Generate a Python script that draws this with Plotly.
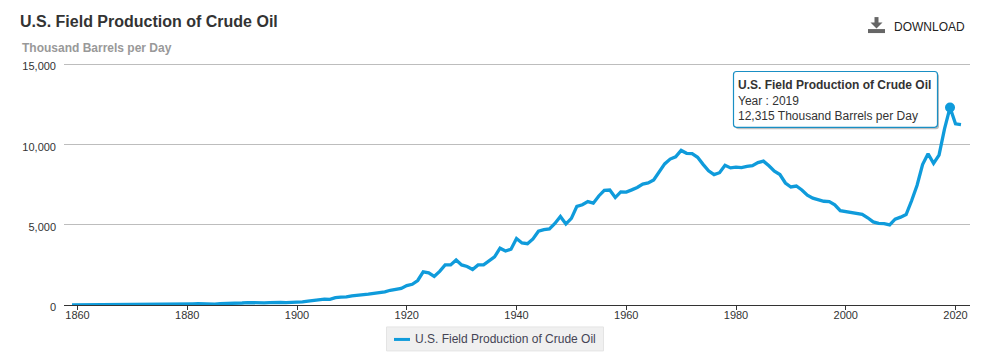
import plotly.graph_objects as go

W, H = 1002, 359
SERIES = "U.S. Field Production of Crude Oil"
UNIT = "Thousand Barrels per Day"

years = list(range(1859, 2022))
production = [
    0, 1, 6, 8, 7, 6, 7, 10, 10, 10, 12,
    14, 14, 17, 27, 30, 34, 25, 37, 42, 55,
    72, 76, 82, 64, 66, 60, 77, 78, 76, 97,
    126, 148, 133, 133, 135, 145, 167, 166, 152, 156,
    174, 190, 243, 275, 321, 369, 347, 456, 490, 501,
    574, 603, 610, 682, 728, 770, 826, 919, 975, 1037,
    1210, 1294, 1528, 2068, 2000, 1780, 2100, 2500, 2500, 2810,
    2500, 2400, 2210, 2500, 2500, 2720, 3000, 3540, 3370, 3480,
    4150, 3870, 3820, 4120, 4600, 4700, 4750, 5085, 5520, 5050,
    5400, 6150, 6250, 6450, 6350, 6800, 7150, 7170, 6700, 7050,
    7040, 7180, 7330, 7540, 7610, 7800, 8300, 8800, 9100, 9240,
    9640, 9460, 9440, 9210, 8770, 8370, 8130, 8250, 8710, 8550,
    8600, 8570, 8650, 8690, 8880, 8970, 8680, 8350, 8140, 7610,
    7360, 7420, 7170, 6850, 6660, 6560, 6470, 6450, 6250, 5880,
    5820, 5800, 5740, 5650, 5440, 5180, 5090, 5080, 5000, 5350,
    5480, 5640, 6500, 7470, 8760, 9430, 8830, 9350, 10990, 12315,
    11300, 11250,
]
highlight_year = [2019]
highlight_value = [12315]
y_ticks = [0, 5000, 10000, 15000]
y_labels = ["0", "5,000", "10,000", "15,000"]
x_ticks = [1860, 1880, 1900, 1920, 1940, 1960, 1980, 2000, 2020]

FONT = "Liberation Sans, Arial, sans-serif"
BLUE = "#0f9bdb"

L, R, T, B = 64, 970, 60, 305.5
GRID_TOP = 64.5
Y_MAX = 15000 * (B - T) / (B - GRID_TOP)


def px(x):
    return (x - L) / (R - L)


def py(y):
    return (B - y) / (B - T)


def rounded(x0, y0, x1, y1, r):
    return (
        f"M {px(x0 + r)} {py(y0)} L {px(x1 - r)} {py(y0)} "
        f"Q {px(x1)} {py(y0)} {px(x1)} {py(y0 + r)} L {px(x1)} {py(y1 - r)} "
        f"Q {px(x1)} {py(y1)} {px(x1 - r)} {py(y1)} L {px(x0 + r)} {py(y1)} "
        f"Q {px(x0)} {py(y1)} {px(x0)} {py(y1 - r)} L {px(x0)} {py(y0 + r)} "
        f"Q {px(x0)} {py(y0)} {px(x0 + r)} {py(y0)} Z"
    )


fig = go.Figure()
fig.add_trace(go.Scatter(
    x=years[:len(production)], y=production, mode="lines", name=SERIES,
    line=dict(color=BLUE, width=3.3), hoverinfo="skip", showlegend=False,
))
fig.add_trace(go.Scatter(
    x=highlight_year, y=highlight_value, mode="markers",
    marker=dict(color=BLUE, size=10), hoverinfo="skip", showlegend=False,
))

x_per_px = 160 / (955.5 - 77.5)
x0 = 1860 + (L - 77.5) * x_per_px
x1 = 1860 + (R - 77.5) * x_per_px

shapes = [
    # tooltip shadow
    dict(type="path", xref="paper", yref="paper", path=rounded(735.5, 73.5, 939, 129.5, 3),
         fillcolor="rgba(0,0,0,0.25)", line=dict(width=0), layer="above"),
    # tooltip box
    dict(type="path", xref="paper", yref="paper", path=rounded(733.5, 71.5, 937.5, 127.5, 3),
         fillcolor="#ffffff", line=dict(color="#1a8fc4", width=1.2), layer="above"),
    # legend box
    dict(type="rect", xref="paper", yref="paper",
         x0=px(386.5), x1=px(603.5), y0=py(327.5), y1=py(351.5),
         fillcolor="#f0f0f0", line=dict(color="#e4e4e4", width=1), layer="below"),
    # download icon
    dict(type="rect", xref="paper", yref="paper",
         x0=px(868), x1=px(885), y0=py(29), y1=py(33),
         fillcolor="#666666", line=dict(width=0)),
    dict(type="rect", xref="paper", yref="paper",
         x0=px(874.5), x1=px(878.5), y0=py(17), y1=py(23),
         fillcolor="#666666", line=dict(width=0)),
    dict(type="path", xref="paper", yref="paper",
         path=f"M {px(870.5)} {py(22.5)} L {px(882.5)} {py(22.5)} L {px(876.5)} {py(28.5)} Z",
         fillcolor="#666666", line=dict(width=0)),
    # legend swatch
    dict(type="line", xref="paper", yref="paper",
         x0=px(394), x1=px(410), y0=py(340), y1=py(340),
         line=dict(color=BLUE, width=3)),
]

annotations = [
    dict(text=f"<b>{SERIES}</b>", x=px(18), y=py(21), xanchor="left", yanchor="middle",
         font=dict(size=16, color="#333333", family=FONT)),
    dict(text=f"<b>{UNIT}</b>", x=px(20), y=py(48), xanchor="left", yanchor="middle",
         font=dict(size=12, color="#999999", family=FONT)),
    dict(text="DOWNLOAD", x=px(892), y=py(27), xanchor="left", yanchor="middle",
         font=dict(size=12, color="#222222", family=FONT)),
    dict(text=SERIES, x=px(413), y=py(340), xanchor="left", yanchor="middle",
         font=dict(size=12, color="#444455", family=FONT)),
    dict(text=f"<b>{SERIES}</b><br>Year : {highlight_year[0]}<br>"
              f"{highlight_value[0]:,} {UNIT}",
         x=px(736), y=py(76), xanchor="left", yanchor="top", align="left",
         font=dict(size=12, color="#333333", family=FONT)),
]
for a in annotations:
    a.update(xref="paper", yref="paper", showarrow=False)

fig.update_layout(
    width=W, height=H,
    margin=dict(l=L, r=W - R, t=T, b=H - B, autoexpand=False),
    paper_bgcolor="#ffffff", plot_bgcolor="#ffffff",
    showlegend=False,
    font=dict(family=FONT, size=12, color="#333333"),
    shapes=shapes, annotations=annotations,
    xaxis=dict(range=[x0, x1], tickvals=x_ticks, ticks="outside", ticklen=4,
               tickcolor="#333333", tickwidth=1, showgrid=False, zeroline=False,
               showline=True, linecolor="#333333", linewidth=1,
               ticklabelstandoff=-4,
               tickfont=dict(size=11, color="#333333")),
    yaxis=dict(range=[0, Y_MAX], tickvals=y_ticks, ticktext=y_labels, ticks="",
               showgrid=True, gridcolor="#bdbdbd", gridwidth=1, zeroline=False,
               showline=False, ticklabelstandoff=7,
               tickfont=dict(size=11, color="#333333")),
)

fig.write_html("out.html", config={"displayModeBar": False},
               post_script="document.body.style.margin='0';document.body.style.overflow='hidden';"
                           "document.querySelectorAll('.ytick text').forEach(t=>t.setAttribute('dy','2'));")
